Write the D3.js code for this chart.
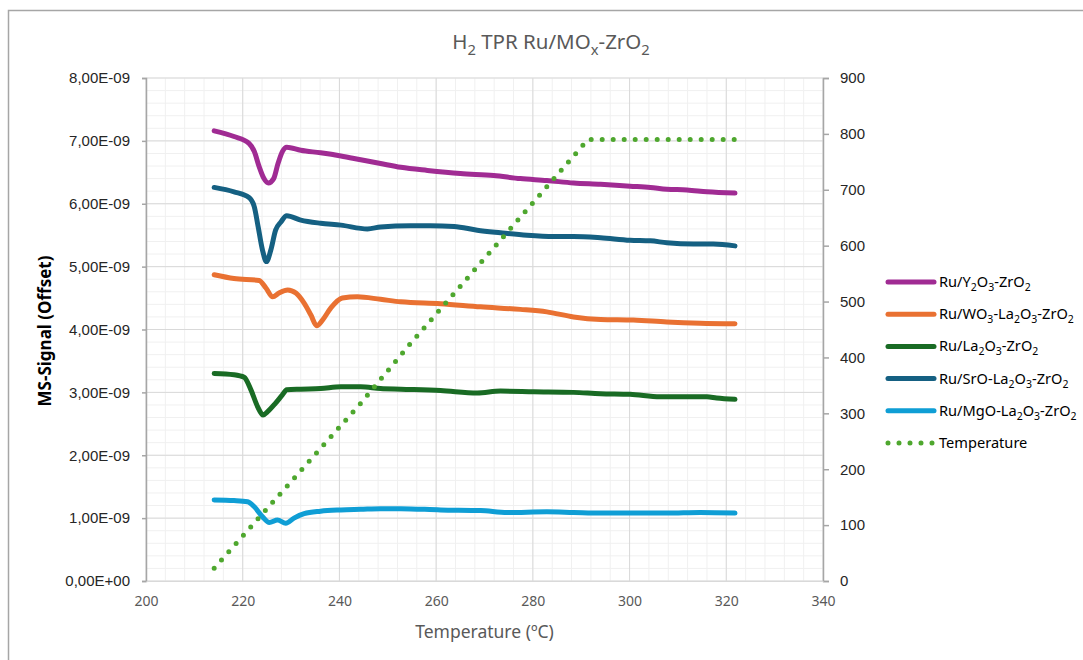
<!DOCTYPE html>
<html>
<head>
<meta charset="utf-8">
<script src="https://cdn.jsdelivr.net/npm/d3@7"></script>
<style>
  body { margin: 0; background: #fff; }
  text { font-family: "Noto Sans", sans-serif; }
  .num { font-family: "Liberation Sans", Arial, sans-serif; }
</style>
</head>
<body>
<div id="chart"></div>
<script>
// MS signal in units of 1E-09, x = temperature axis value
const y2o3 = [[214.1, 7.16], [218.2, 7.07], [221.3, 6.96], [222.4, 6.83], [223.4, 6.59], [224.4, 6.40], [225.3, 6.33],
  [226.4, 6.40], [227.3, 6.64], [228.2, 6.83], [229.1, 6.90], [232.0, 6.85], [236.1, 6.81], [240.3, 6.76], [244.4, 6.70],
  [248.5, 6.64], [252.7, 6.58], [258.2, 6.53], [265.0, 6.48], [271.9, 6.45], [277.4, 6.40], [282.9, 6.37], [288.4, 6.33],
  [294.0, 6.31], [300.1, 6.28], [304.3, 6.26], [307.7, 6.23], [311.9, 6.22], [316.0, 6.19], [321.8, 6.17]];

const wo3 = [[214.1, 4.87], [218.2, 4.81], [223.4, 4.78], [224.8, 4.66], [226.2, 4.52], [227.5, 4.58], [229.3, 4.63],
  [231.0, 4.58], [232.7, 4.42], [234.1, 4.23], [235.3, 4.06], [236.5, 4.15], [238.2, 4.34], [240.6, 4.50], [243.7, 4.52],
  [248.5, 4.48], [252.7, 4.44], [260.9, 4.41], [269.2, 4.36], [277.4, 4.32], [282.9, 4.28], [288.4, 4.20], [294.0, 4.16],
  [300.8, 4.15], [307.7, 4.12], [314.6, 4.10], [321.8, 4.09]];

const la2o3 = [[214.1, 3.30], [218.2, 3.28], [220.3, 3.24], [221.7, 3.04], [223.1, 2.77], [224.2, 2.64], [225.1, 2.69],
  [226.8, 2.83], [228.2, 2.96], [229.1, 3.04], [232.0, 3.05], [236.1, 3.06], [240.3, 3.09], [244.4, 3.09], [248.5, 3.06],
  [252.7, 3.05], [260.9, 3.03], [268.5, 2.99], [273.3, 3.02], [280.2, 3.01], [288.4, 3.00], [294.0, 2.98], [300.1, 2.97],
  [306.3, 2.93], [311.9, 2.93], [316.0, 2.93], [318.0, 2.91], [321.8, 2.89]];

const sro = [[214.1, 6.26], [218.2, 6.19], [221.3, 6.10], [222.4, 5.95], [223.2, 5.63], [224.1, 5.26], [224.9, 5.08],
  [225.8, 5.26], [226.8, 5.58], [227.9, 5.71], [229.1, 5.81], [232.0, 5.74], [236.1, 5.69], [240.3, 5.66], [245.8, 5.60],
  [248.5, 5.63], [254.7, 5.65], [258.8, 5.65], [263.7, 5.64], [268.5, 5.58], [273.3, 5.54], [278.8, 5.50], [284.3, 5.48],
  [288.4, 5.48], [294.0, 5.46], [300.1, 5.42], [304.3, 5.41], [307.7, 5.38], [313.2, 5.36], [317.3, 5.36], [321.8, 5.33]];

const mgo = [[214.1, 1.29], [218.2, 1.28], [221.0, 1.26], [222.4, 1.18], [224.1, 1.02], [225.5, 0.93], [227.2, 0.97],
  [228.9, 0.92], [230.6, 1.00], [232.7, 1.07], [236.1, 1.11], [240.3, 1.13], [244.4, 1.14], [248.5, 1.15], [252.7, 1.15],
  [260.9, 1.13], [269.2, 1.12], [274.7, 1.09], [282.9, 1.10], [288.4, 1.09], [294.0, 1.08], [300.8, 1.08], [307.7, 1.08],
  [314.6, 1.09], [321.8, 1.08]];

// secondary axis (°C)
const temperature = [[214.1, 23], [244.4, 318], [254.4, 422], [291.4, 790], [306.0, 790], [321.8, 790]];

const names = ["Ru/Y_2O_3-ZrO_2", "Ru/WO_3-La_2O_3-ZrO_2", "Ru/La_2O_3-ZrO_2", "Ru/SrO-La_2O_3-ZrO_2", "Ru/MgO-La_2O_3-ZrO_2", "Temperature"];
const colors = ["#a02b93", "#e97132", "#196b24", "#156082", "#0f9ed5", "#4ea72e"];
const seriesData = [y2o3, wo3, la2o3, sro, mgo];

const xTicks = [200, 220, 240, 260, 280, 300, 320, 340];
const yTicks = [0, 1, 2, 3, 4, 5, 6, 7, 8];
const y2Ticks = [0, 100, 200, 300, 400, 500, 600, 700, 800, 900];

const width = 1083, height = 660;
const m = { left: 146, right: 823, top: 78, bottom: 581 };

const x = d3.scaleLinear().domain([200, 340]).range([m.left, m.right]);
const y = d3.scaleLinear().domain([0, 8]).range([m.bottom, m.top]);
const y2 = d3.scaleLinear().domain([0, 900]).range([m.bottom, m.top]);

const svg = d3.select("#chart").append("svg")
    .attr("width", width)
    .attr("height", height);

// chart frame
svg.append("rect")
    .attr("x", 8.5).attr("y", 10.5)
    .attr("width", 1100).attr("height", 700)
    .attr("fill", "none")
    .attr("stroke", "#a6a6a6")
    .attr("stroke-width", 1.5);

// rich text with _x subscripts
const rich = (t, str, size) => {
    let sub = false;
    str.split(/(_.)/).filter(s => s).forEach(p => {
        const isSub = p[0] === "_";
        const ts = t.append("tspan").text(isSub ? p.slice(1) : p);
        if (isSub) {
            ts.attr("font-size", size * 0.72);
            if (!sub) ts.attr("dy", size * 0.28);
        } else if (sub) {
            ts.attr("dy", -size * 0.28);
        }
        sub = isSub;
    });
};

// grid
const grid = svg.append("g");
grid.selectAll("line.vminor")
    .data(d3.range(200, 341, 4))
    .enter().append("line")
    .attr("x1", d => x(d)).attr("x2", d => x(d))
    .attr("y1", m.top).attr("y2", m.bottom)
    .attr("stroke", "#f0f0f0").attr("stroke-width", 1);
grid.selectAll("line.hminor")
    .data(d3.range(0, 8.01, 0.2))
    .enter().append("line")
    .attr("x1", m.left).attr("x2", m.right)
    .attr("y1", d => y(d)).attr("y2", d => y(d))
    .attr("stroke", "#f0f0f0").attr("stroke-width", 1);
grid.selectAll("line.vmajor")
    .data(xTicks)
    .enter().append("line")
    .attr("x1", d => x(d)).attr("x2", d => x(d))
    .attr("y1", m.top).attr("y2", m.bottom)
    .attr("stroke", "#d9d9d9").attr("stroke-width", 1);
grid.selectAll("line.hmajor")
    .data(yTicks)
    .enter().append("line")
    .attr("x1", m.left).attr("x2", m.right)
    .attr("y1", d => y(d)).attr("y2", d => y(d))
    .attr("stroke", "#d9d9d9").attr("stroke-width", 1);

// axes
const fmt = d => d === 0 ? "0,00E+00" : d.toFixed(2).replace(".", ",") + "E-09";

const gy = svg.append("g")
    .attr("transform", `translate(${m.left},0)`)
    .call(d3.axisLeft(y).tickValues(yTicks).tickSize(4).tickPadding(12).tickFormat(fmt));
gy.select(".domain").attr("stroke", "#a6a6a6").attr("stroke-width", 1.5);
gy.selectAll(".tick line").attr("stroke", "#a6a6a6").attr("stroke-width", 1.5);
gy.selectAll("text").attr("class", "num").attr("font-size", 15).attr("fill", "#262626");

const gy2 = svg.append("g")
    .attr("transform", `translate(${m.right},0)`)
    .call(d3.axisRight(y2).tickValues(y2Ticks).tickSize(6).tickPadding(11));
gy2.select(".domain").attr("stroke", "#a6a6a6").attr("stroke-width", 1.5);
gy2.selectAll(".tick line").attr("stroke", "#a6a6a6").attr("stroke-width", 1.5);
gy2.selectAll("text").attr("class", "num").attr("font-size", 15).attr("fill", "#262626");

const gx = svg.append("g")
    .attr("transform", `translate(0,${m.bottom})`)
    .call(d3.axisBottom(x).tickValues(xTicks).tickSize(0).tickPadding(15));
gx.select(".domain").attr("stroke", "#d9d9d9");
gx.selectAll("text").attr("font-size", 14).attr("fill", "#595959");

// axis titles
svg.append("text")
    .attr("x", (m.left + m.right) / 2).attr("y", 638)
    .attr("text-anchor", "middle")
    .attr("font-size", 17.5).attr("fill", "#595959")
    .text("Temperature (ºC)");

svg.append("text")
    .attr("transform", "translate(51,331) rotate(-90)")
    .attr("text-anchor", "middle")
    .attr("font-size", 17).attr("font-weight", "bold").attr("fill", "#000")
    .text("MS-Signal (Offset)");

// title
const title = svg.append("text")
    .attr("x", 551).attr("y", 49)
    .attr("text-anchor", "middle")
    .attr("font-size", 20.5).attr("fill", "#595959");
rich(title, "H_2 TPR Ru/MO_x-ZrO_2", 20.5);

// series
const line = d3.line()
    .x(d => x(d[0]))
    .y(d => y(d[1]))
    .curve(d3.curveMonotoneX);

svg.append("g")
    .selectAll("path")
    .data(seriesData)
    .enter().append("path")
    .attr("d", line)
    .attr("fill", "none")
    .attr("stroke", (d, i) => colors[i])
    .attr("stroke-width", 5)
    .attr("stroke-linejoin", "round")
    .attr("stroke-linecap", "round");

const line2 = d3.line()
    .x(d => x(d[0]))
    .y(d => y2(d[1]));

svg.append("path")
    .datum(temperature)
    .attr("d", line2)
    .attr("fill", "none")
    .attr("stroke", colors[5])
    .attr("stroke-width", 5)
    .attr("stroke-linecap", "round")
    .attr("stroke-dasharray", "0 11");

// legend
const legend = svg.append("g")
    .attr("transform", "translate(886,282)");

const item = legend.selectAll("g")
    .data(names)
    .enter().append("g")
    .attr("transform", (d, i) => `translate(0,${i * 32.2})`);

item.append("line")
    .attr("x1", 2).attr("x2", 48)
    .attr("stroke", (d, i) => colors[i])
    .attr("stroke-width", 5)
    .attr("stroke-linecap", "round")
    .attr("stroke-dasharray", (d, i) => i === 5 ? "0 11" : null);

item.append("text")
    .attr("x", 53).attr("y", 5)
    .attr("font-size", 14.6).attr("fill", "#000")
    .each(function(d) { rich(d3.select(this), d, 14.6); });
</script>
</body>
</html>
